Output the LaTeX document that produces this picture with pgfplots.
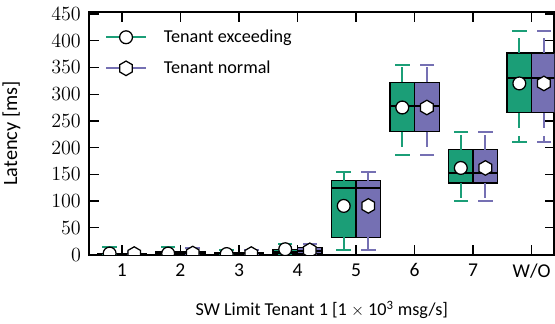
\documentclass[border=0pt]{standalone}
\usepackage{pgfplots}
\pgfplotsset{compat=1.18}
\usepackage{fontspec}
\setmainfont{Carlito}
\definecolor{tgreen}{HTML}{1B9E77}
\definecolor{tpurple}{HTML}{7570B3}
\pgfdeclareplotmark{hexagon}{%
  \pgfpathmoveto{\pgfqpoint{0pt}{\pgfplotmarksize}}%
  \pgfpathlineto{\pgfqpoint{-0.866\pgfplotmarksize}{0.5\pgfplotmarksize}}%
  \pgfpathlineto{\pgfqpoint{-0.866\pgfplotmarksize}{-0.5\pgfplotmarksize}}%
  \pgfpathlineto{\pgfqpoint{0pt}{-\pgfplotmarksize}}%
  \pgfpathlineto{\pgfqpoint{0.866\pgfplotmarksize}{-0.5\pgfplotmarksize}}%
  \pgfpathlineto{\pgfqpoint{0.866\pgfplotmarksize}{0.5\pgfplotmarksize}}%
  \pgfpathclose
  \pgfusepathqfillstroke
}
% #1 colour, #2 box left, #3 centre, #4 box right, #5 lower whisker,
% #6 lower quartile, #7 median, #8 upper quartile, #9 upper whisker
\newcommand{\bx}[9]{%
  \addplot[draw=black, fill=#1, line width=0.9pt] coordinates {(#2,#6) (#4,#6) (#4,#8) (#2,#8)} --cycle;
  \addplot[draw=black, line width=1.4pt] coordinates {(#2,#7) (#4,#7)};
  \addplot[draw=#1, line width=1.4pt, dash pattern=on 10.7pt off 6pt] coordinates {(#3,#8) (#3,#9)};
  \addplot[draw=#1, line width=1.4pt, dash pattern=on 10.7pt off 6pt] coordinates {(#3,#6) (#3,#5)};
  \addplot[draw=#1, line width=1.4pt, only marks, mark=-, mark size=5.2pt] coordinates {(#3,#9) (#3,#5)};
}
\newcommand{\lfont}{\fontsize{13}{15}\selectfont}
\begin{document}
\begin{tikzpicture}
\begin{axis}[
  scale only axis, width=333pt, height=173.4pt,
  xmin=0.44, xmax=8.39, ymin=0, ymax=453,
  xtick={1,2,3,4,5,6,7,8}, xticklabels={1,2,3,4,5,6,7,W/O},
  ytick={0,50,100,150,200,250,300,350,400,450},
  axis line style={line width=1.4pt},
  every tick/.style={black, line width=0.9pt},
  major tick length=6.8pt,
  tick label style={font=\fontsize{14}{17}\selectfont},
  xticklabel style={yshift=-3pt},
  yticklabel style={xshift=-2.4pt},
  xlabel={SW Limit Tenant 1 [1 $\times$ 10\textsuperscript{3} msg/s]},
  ylabel={Latency [ms]},
  every axis x label/.style={at={(axis description cs:0.5,0)}, anchor=base, yshift=-43.5pt, font=\lfont},
  every axis y label/.style={at={(axis description cs:-0.167,0.5)}, rotate=90, anchor=center, font=\fontsize{14.5}{17}\selectfont},
  clip marker paths=true,
  legend style={at={(axis description cs:0,1)}, anchor=north west, xshift=11.2pt, yshift=-10.4pt,
    draw=none, fill=none, inner sep=0pt, font=\lfont, row sep=7.7pt, column sep=10pt},
  legend cell align=left,
  legend image code/.code={\draw[mark repeat=2, mark phase=2, #1] plot coordinates {(0pt,0pt) (14.3pt,0pt) (28.6pt,0pt)};},
]
\addlegendimage{tgreen, line width=1.4pt, mark=*, mark size=4.6pt, mark options={solid, fill=white, draw=black, line width=0.9pt}}
\addlegendentry{Tenant exceeding}
\addlegendimage{tpurple, line width=1.4pt, mark=hexagon, mark size=5.2pt, mark options={solid, fill=white, draw=black, line width=0.9pt}}
\addlegendentry{Tenant normal}

% Tenant exceeding (green): colour, left, centre, right, lw, q1, median, q3, uw
\bx{tgreen}{0.58}{0.79}{1.00}{0}{0}{1}{2}{14}
\bx{tgreen}{1.58}{1.79}{2.00}{0}{0}{1}{5}{14}
\bx{tgreen}{2.58}{2.79}{3.00}{0}{0}{1}{4}{8}
\bx{tgreen}{3.58}{3.79}{4.00}{0}{1}{5}{10}{19}
\bx{tgreen}{4.58}{4.79}{5.00}{8}{32}{124}{138}{154}
\bx{tgreen}{5.58}{5.79}{6.00}{187}{230}{277}{322}{355}
\bx{tgreen}{6.58}{6.79}{7.00}{100}{134}{152}{196}{230}
\bx{tgreen}{7.58}{7.79}{8.00}{211}{265}{330}{377}{418}
% Tenant normal (purple)
\bx{tpurple}{1.00}{1.21}{1.42}{0}{0}{1}{2}{4}
\bx{tpurple}{2.00}{2.21}{2.42}{0}{0}{1}{5}{13}
\bx{tpurple}{3.00}{3.21}{3.42}{0}{0}{1}{4}{8}
\bx{tpurple}{4.00}{4.21}{4.42}{0}{2}{7}{13}{19}
\bx{tpurple}{5.00}{5.21}{5.42}{8}{32}{124}{138}{154}
\bx{tpurple}{6.00}{6.21}{6.42}{187}{230}{277}{322}{355}
\bx{tpurple}{7.00}{7.21}{7.42}{100}{134}{152}{196}{230}
\bx{tpurple}{8.00}{8.21}{8.42}{211}{265}{330}{377}{418}

% means
\addplot[only marks, mark=*, mark size=4.6pt, mark options={fill=white, draw=black, line width=0.9pt}]
  coordinates {(0.79,2) (1.79,2) (2.79,1) (3.79,10) (4.79,91) (5.79,275) (6.79,162) (7.79,320)};
\addplot[only marks, mark=hexagon, mark size=5.2pt, mark options={fill=white, draw=black, line width=0.9pt}]
  coordinates {(1.21,1) (2.21,2) (3.21,1) (4.21,8) (5.21,91) (6.21,275) (7.21,162) (8.21,320)};
\end{axis}
\pgfresetboundingbox
\path[use as bounding box] ([xshift=-63.8pt,yshift=-49.3pt]current axis.south west) rectangle ([xshift=0.4pt,yshift=8.8pt]current axis.north east);
\end{tikzpicture}
\end{document}
